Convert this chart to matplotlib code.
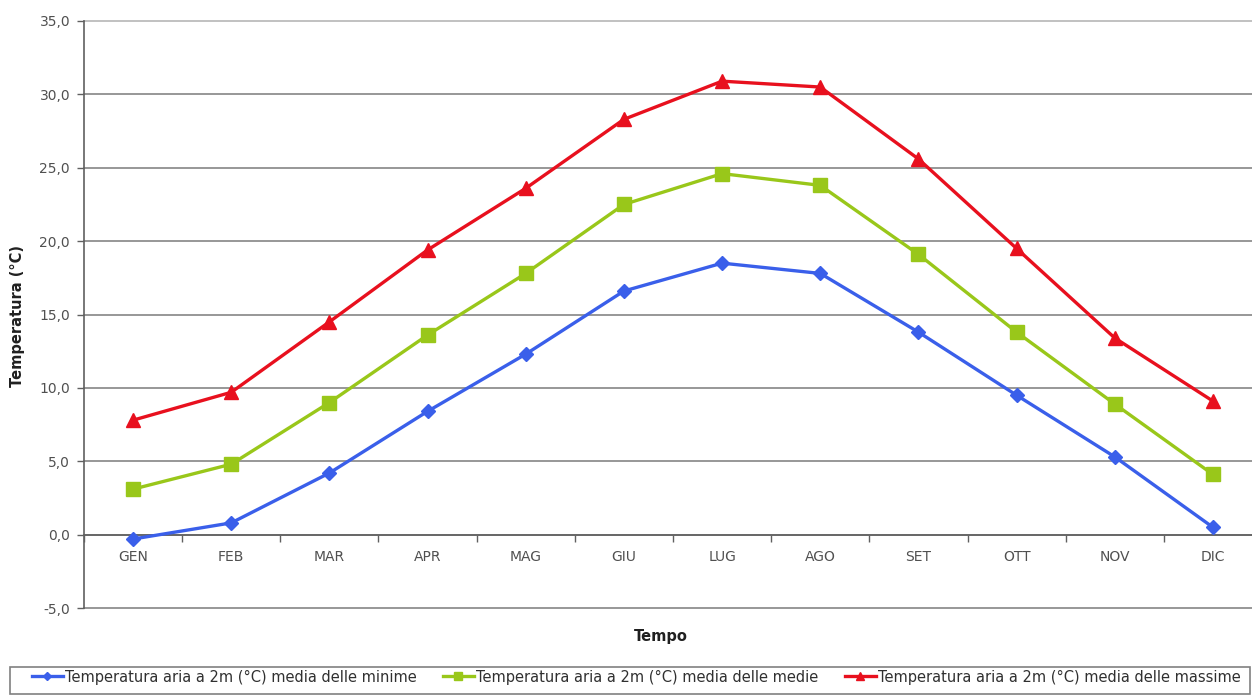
import matplotlib
matplotlib.use("Agg")
import matplotlib.pyplot as plt
from matplotlib.ticker import FuncFormatter, FixedLocator
from matplotlib.patches import Rectangle

months = ["GEN", "FEB", "MAR", "APR", "MAG", "GIU", "LUG", "AGO", "SET", "OTT", "NOV", "DIC"]
t_min = [-0.3, 0.8, 4.2, 8.4, 12.3, 16.6, 18.5, 17.8, 13.8, 9.5, 5.3, 0.5]
t_med = [3.1, 4.8, 9.0, 13.6, 17.8, 22.5, 24.6, 23.8, 19.1, 13.8, 8.9, 4.1]
t_max = [7.8, 9.7, 14.5, 19.4, 23.6, 28.3, 30.9, 30.5, 25.6, 19.5, 13.4, 9.1]
labels = ["Temperatura aria a 2m (°C) media delle minime",
          "Temperatura aria a 2m (°C) media delle medie",
          "Temperatura aria a 2m (°C) media delle massime"]

plt.rcParams['font.family'] = ['DejaVu Sans']

W, H = 1252, 695
fig = plt.figure(figsize=(W / 100, H / 100), dpi=100)
ax = fig.add_axes([84 / W, 1 - 608 / H, (1262 - 84) / W, (608 - 21) / H])

x = list(range(len(months)))
l1, = ax.plot(x, t_min, color="#3A5FEA", lw=2.4, marker="D", ms=7.5, zorder=5, label=labels[0])
l2, = ax.plot(x, t_med, color="#99C71A", lw=2.4, marker="s", ms=10, zorder=4, label=labels[1])
l3, = ax.plot(x, t_max, color="#E8101E", lw=2.4, marker="^", ms=10.5, zorder=3, label=labels[2])

ax.set_xlim(-0.5, 11.5)
ax.set_ylim(-5, 35)
ax.set_yticks(range(-5, 36, 5))
ax.yaxis.set_major_formatter(FuncFormatter(lambda v, p: f"{v:.1f}".replace(".", ",")))
ax.grid(axis="y", color="#7a7a7a", lw=1.1, zorder=0)
ax.set_axisbelow(True)
for gl in ax.get_ygridlines():
    gl.set_clip_on(False)
ax.get_ygridlines()[-1].set_color("#b0b0b0")

ax.spines['top'].set_visible(False)
ax.spines['right'].set_visible(False)
ax.spines['left'].set_color("#606060")
ax.spines['left'].set_linewidth(1.2)
ax.spines['bottom'].set_position(('data', 0))
ax.spines['bottom'].set_color("#606060")
ax.spines['bottom'].set_linewidth(1.2)

ax.set_xticks(x)
ax.set_xticklabels(months)
ax.xaxis.set_minor_locator(FixedLocator([i + 0.5 for i in range(-1, 12)]))
ax.tick_params(axis='x', which='major', length=0, pad=11, labelsize=10, colors="#505050")
ax.tick_params(axis='x', which='minor', length=5, width=1, color="#606060", direction='out')
ax.tick_params(axis='y', length=5, width=1, color="#606060", direction='out', labelsize=10,
               labelcolor="#505050", pad=5)

fig.text(18 / W, 1 - 316 / H, "Temperatura (°C)", rotation=90, ha="center", va="center",
         fontsize=10.5, fontweight="bold", color="#202020")
fig.text(661 / W, 1 - 636 / H, "Tempo", ha="center", va="center",
         fontsize=10.5, fontweight="bold", color="#202020")

# legend frame
fig.patches.append(Rectangle((10 / W, 1 - 694 / H), 1240 / W, 27 / H, transform=fig.transFigure,
                             fill=False, edgecolor="#808080", lw=1.2))
starts = [32, 443, 845]
for h, s in zip([l1, l2, l3], starts):
    lg = fig.legend(handles=[h], loc="center left", bbox_to_anchor=(s / W, 1 - 677 / H),
                    fontsize=10.5, frameon=False, handlelength=2.1, handletextpad=0.15,
                    borderpad=0, borderaxespad=0, markerscale=0.6)
    for t in lg.get_texts():
        t.set_color("#303030")

fig.savefig("out.png", dpi=100)
